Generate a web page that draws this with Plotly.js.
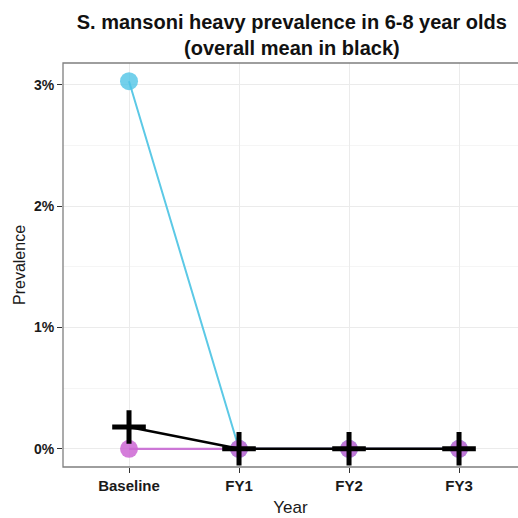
<!DOCTYPE html>
<html><head>
<script src="https://cdn.plot.ly/plotly-3.0.1.min.js"></script>
<style>body{margin:0;background:#fff}</style>
</head><body>
<div id="chart" style="width:518px;height:518px"></div>
<script>
const years = ["Baseline", "FY1", "FY2", "FY3"];
const cyanPrev = [3.03, 0, 0, 0];
const purplePrev = [0, 0, 0, 0];
const meanPrev = [0.18, 0, 0, 0];
const yTickVals = [0, 1, 2, 3];
const yTickText = ["0%", "1%", "2%", "3%"];
const titleText = "S. mansoni heavy prevalence in 6-8 year olds<br>(overall mean in black)";

const FONT = "Liberation Sans, Arial, sans-serif";

const traces = [
  {x: years, y: cyanPrev, type: "scatter", mode: "lines+markers",
   line: {color: "#5cc9e6", width: 2},
   marker: {color: "rgba(80,196,230,0.8)", size: 18}, showlegend: false},
  {x: years, y: purplePrev, type: "scatter", mode: "lines+markers",
   line: {color: "#cc77d6", width: 2.2},
   marker: {color: "rgba(204,102,212,0.85)", size: 18}, showlegend: false},
  {x: years, y: meanPrev, type: "scatter", mode: "lines+markers",
   line: {color: "#000", width: 2.5},
   marker: {symbol: "cross-thin", size: 24, line: {color: "#000", width: 5}}, showlegend: false}
];

const layout = {
  width: 518, height: 518,
  margin: {l: 63, r: 0, t: 63, b: 51},
  paper_bgcolor: "#fff", plot_bgcolor: "#fff",
  font: {family: FONT, color: "#1a1a1a"},
  title: {text: titleText, font: {family: FONT, size: 20, color: "#111", weight: "bold"},
          x: 0.503, xref: "paper", xanchor: "center", y: 0.944, yref: "container", yanchor: "middle"},
  xaxis: {type: "category", range: [-0.6, 3.536], showgrid: true, gridcolor: "#ebebeb", gridwidth: 1,
          zeroline: false, showline: false, ticks: "outside", ticklen: 5, tickcolor: "#333", tickwidth: 1,
          tickfont: {family: FONT, size: 15, color: "#1a1a1a", weight: "bold"},
          title: {text: "Year", font: {family: FONT, size: 17, color: "#1a1a1a"}, standoff: 8}},
  yaxis: {range: [-0.15, 3.18], tickvals: yTickVals, ticktext: yTickText,
          showgrid: true, gridcolor: "#ebebeb", gridwidth: 1, zeroline: false, showline: false,
          ticks: "outside", ticklen: 5, tickcolor: "#333", tickwidth: 1,
          tickfont: {family: FONT, size: 14, color: "#1a1a1a", weight: "bold"},
          minor: {tickvals: [0.5, 1.5, 2.5], showgrid: true, gridcolor: "#f5f5f5", gridwidth: 1, ticks: ""},
          title: {text: "Prevalence", font: {family: FONT, size: 16, color: "#1a1a1a"}, standoff: 4}},
  shapes: [{type: "rect", xref: "paper", yref: "paper", x0: 0, x1: 1.1, y0: 0, y1: 1,
            line: {color: "#7f7f7f", width: 1.3}, layer: "above"}]
};

Plotly.newPlot("chart", traces, layout, {displayModeBar: false, staticPlot: true});
</script>
</body></html>
